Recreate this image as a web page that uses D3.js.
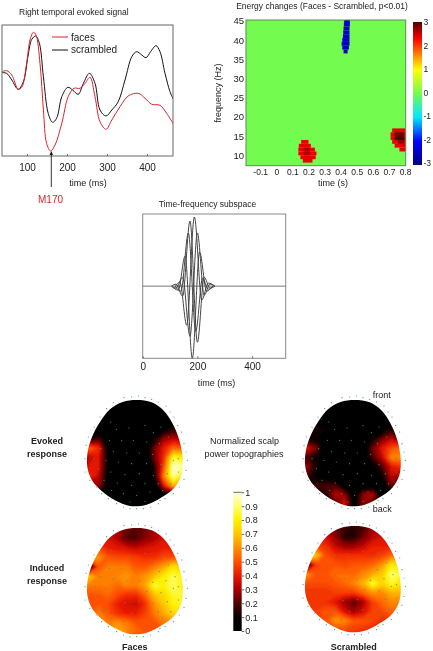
<!DOCTYPE html>
<html>
  <head>
    <meta charset="UTF-8" />
    <title>Faces vs scrambled</title>
    <script src="https://d3js.org/d3.v7.min.js"></script>
    <style>
      body { margin: 0; background: #fff; }
      svg { filter: blur(0.3px); }
      text { font-family: "Liberation Sans", Arial, sans-serif; fill: #222; }
    </style>
  </head>
  <body>
    <div id="chart"></div>
    <script>
      ///////////////////////data///////////////////////////////

      // evoked signal, [ms, amplitude]
      let facesSignal = [[37,84.3],[49,85.3],[62,81],[78,66.7],[87,68.7],[99,92.7],[107.5,116],[116,123.7],[122.5,121],[132.5,92.7],[141,46],[149,12.7],[159,5],[170,11],[187,32.7],[203,59.3],[217.5,67.7],[232.5,67.7],[245,72.7],[257.5,78.7],[270,59.3],[282.5,34.3],[297.5,26.7],[312,36],[332.5,49.3],[353,60],[378,62.7],[395,57.7],[412,51.7],[432.5,50.7],[449,42.7],[466,32]];
      let scrambledSignal = [[37,83.3],[49,82.7],[62,76],[78,66.7],[91,74.3],[103,101],[112,116.7],[122,120],[131,112.7],[141,79.3],[153,42.7],[164,33.7],[174,37.7],[187,59.3],[202,68.7],[214,66],[228,61.7],[241,72.7],[256,82.7],[270,72.7],[282.5,46],[297.5,40],[312,46],[328,54.3],[345,76],[362,99.3],[374,104.3],[387,101],[397.5,98.3],[409,104.3],[422.5,110.3],[432.5,104.3],[445,82.7],[457.5,64.3],[466,56.7]];
      let signalTicks = [100, 200, 300, 400];

      // significant energy changes: [freq, tStart, tEnd, value]
      let energyRuns = [
        [13.5,0.155,0.2,2.4],[12.5,0.14,0.215,2.4],[11.5,0.137,0.24,2.4],[10.5,0.137,0.25,2.4],[9.5,0.15,0.245,2.4],[8.6,0.165,0.225,2.4],
        [11.5,0.17,0.21,2.6],[10.5,0.17,0.21,2.6],
        [16.5,0.72,0.8,2.4],[15.5,0.71,0.804,2.4],[14.5,0.71,0.804,2.4],[13.5,0.72,0.804,2.4],[12.5,0.735,0.804,2.4],[11.5,0.765,0.804,2.4],
        [15.5,0.735,0.795,2.85],[14.5,0.735,0.795,3],[13.5,0.755,0.795,2.7],
        [44.7,0.422,0.457,-2.4],[44,0.42,0.457,-2.4],[43,0.418,0.455,-2.4],[42,0.416,0.455,-2.4],[41,0.414,0.455,-2.4],[40,0.41,0.455,-2.4],[39,0.406,0.455,-2.4],[38,0.41,0.451,-2.4],[37,0.418,0.443,-2.4],
      ];
      let energyTimeTicks = [-0.1, 0, 0.1, 0.2, 0.3, 0.4, 0.5, 0.6, 0.7, 0.8];
      let energyFreqTicks = [10, 15, 20, 25, 30, 35, 40, 45];
      let energyBarTicks = [-3, -2, -1, 0, 1, 2, 3];
      let jetStops = [-3, -2, -1, 0, 1, 2.3, 3];
      let jetColors = ["#00007a", "#0000ff", "#00e8ff", "#74fb50", "#ffff00", "#ff0000", "#500000"];

      // time-frequency subspace curves, [ms, amplitude]
      let subspaceCurves = [
        [[120,0],[136,4],[161,-39],[189,69],[216,-14],[240,3],[264,0]],
        [[106,0],[122,2],[146,-10],[173,65],[200,-56],[225,9],[246,-2],[264,0]],
        [[106,0],[130,-4],[155,30],[181.5,-72],[208,34],[234,-5],[256,0]],
        [[106,0],[122,-2],[146,9],[173,-50],[200,53],[225,-9],[246,2],[264,0]],
        [[118,0],[140,-5],[167,53],[194,-45],[219,8],[240,-3],[258,0]],
      ];
      let subspaceTicks = [0, 200, 400];

      // scalp power, 13 columns x 14 rows over the head box
      let evokedFaces = [
        [0,0,0,0,0,0,0,0,0,0,0,0,0],
        [0,0,0,0,0,0,0,0,0,0,0,0,0],
        [0,0,0,0,0,0,0,0,0,0,0,0,0],
        [0,0,0,0,0,0,0,0,0,0,0,0,0],
        [0,0,0,0,0,0,0,0,0,.05,.15,.1,0],
        [0,.1,.2,0,0,0,0,0,.1,.3,.35,.3,.2],
        [.3,.55,.45,.05,0,0,0,0,.25,.42,.55,.5,.4],
        [.2,.35,.4,.05,0,0,0,0,.25,.45,.85,.8,.5],
        [.2,.4,.4,.05,0,0,0,0,.15,.5,1,.95,.6],
        [.3,.45,.35,.05,0,0,0,0,.1,.6,.95,.8,.4],
        [.1,.25,.3,.05,0,0,0,0,0,.42,.7,.5,.1],
        [0,0,.05,0,0,0,0,0,0,.05,.1,0,0],
        [0,0,0,0,0,0,0,0,0,0,0,0,0],
        [0,0,0,0,0,0,0,0,0,0,0,0,0],
      ];
      let evokedScrambled = [
        [0,0,0,0,0,0,0,0,0,0,0,0,0],
        [0,0,0,0,0,0,0,0,0,0,0,0,0],
        [0,0,0,0,0,0,0,0,0,0,0,0,0],
        [0,0,0,0,0,0,0,0,0,0,0,0,0],
        [0,0,.15,.08,0,0,0,0,0,0,.15,.1,0],
        [0,.1,.08,0,0,0,0,0,.1,.25,.35,.2,.1],
        [.2,.4,.25,0,0,0,0,0,.25,.4,.5,.55,.4],
        [.1,.2,.1,0,0,0,0,0,.2,.35,.6,.6,.4],
        [.2,.3,.1,0,0,0,0,0,.05,.2,.4,.45,.3],
        [.1,.2,.05,0,0,0,0,0,0,.1,.35,.3,.2],
        [.05,.15,.2,.2,.2,0,0,0,0,0,.25,.1,0],
        [0,0,.05,.15,.35,.3,0,.3,.35,0,0,0,0],
        [0,0,0,.05,.2,.4,.05,.3,.2,0,0,0,0],
        [0,0,0,0,0,0,0,0,0,0,0,0,0],
      ];
      let inducedFaces = [
        [.3,.3,.3,.3,.3,.3,.3,.3,.3,.3,.3,.3,.3],
        [.3,.3,.3,.35,.3,.25,.22,.25,.3,.35,.35,.35,.35],
        [.4,.4,.4,.38,.33,.22,.22,.28,.33,.38,.4,.4,.4],
        [.45,.5,.5,.42,.4,.38,.35,.38,.4,.42,.42,.42,.42],
        [.6,.7,.62,.52,.5,.5,.48,.45,.45,.5,.5,.5,.45],
        [.1,.05,.52,.58,.58,.58,.52,.52,.58,.65,.78,.7,.55],
        [.72,.72,.58,.58,.6,.62,.58,.62,.7,.8,.88,.82,.7],
        [.58,.58,.58,.58,.55,.6,.58,.65,.88,.82,.9,.82,.7],
        [.52,.52,.52,.55,.5,.45,.45,.55,.7,.76,.86,.85,.7],
        [.55,.52,.52,.5,.42,.38,.36,.45,.62,.72,.82,.86,.7],
        [.52,.52,.58,.52,.45,.42,.42,.48,.58,.66,.75,.76,.6],
        [.55,.55,.58,.58,.62,.58,.52,.52,.52,.58,.58,.58,.5],
        [.55,.55,.55,.58,.68,.6,.55,.52,.5,.5,.5,.5,.45],
        [.45,.45,.45,.45,.45,.45,.45,.45,.45,.45,.45,.45,.45],
      ];
      let inducedScrambled = [
        [.3,.3,.3,.3,.3,.3,.3,.3,.3,.3,.3,.3,.3],
        [.3,.3,.3,.3,.25,.18,.15,.2,.3,.35,.35,.35,.35],
        [.4,.4,.38,.38,.28,.15,.15,.25,.33,.38,.4,.4,.4],
        [.5,.5,.5,.45,.35,.3,.3,.35,.42,.42,.42,.42,.42],
        [.7,.85,.7,.5,.45,.45,.45,.45,.45,.48,.55,.55,.5],
        [.1,.1,.48,.52,.52,.5,.52,.52,.55,.62,.8,.75,.6],
        [.6,.62,.52,.52,.55,.55,.55,.6,.65,.72,.92,.86,.7],
        [.5,.5,.5,.5,.52,.55,.6,.68,.88,.74,.86,.78,.65],
        [.45,.45,.45,.45,.48,.48,.48,.55,.62,.6,.68,.68,.6],
        [.45,.45,.45,.45,.4,.3,.22,.32,.48,.55,.6,.6,.55],
        [.45,.45,.48,.52,.52,.38,.3,.38,.48,.5,.55,.5,.45],
        [.45,.45,.45,.52,.62,.6,.52,.52,.5,.45,.45,.45,.45],
        [.42,.42,.42,.45,.5,.5,.48,.45,.42,.4,.4,.4,.4],
        [.4,.4,.4,.4,.4,.4,.4,.4,.4,.4,.4,.4,.4],
      ];
      let headOutline = [[170,24],[215,31],[250,55],[278,95],[298,145],[308,200],[304,250],[283,287],[245,316],[200,338],[150,342],[105,325],[65,297],[36,265],[22,225],[23,180],[36,135],[60,90],[90,52],[128,30]];
      let sensors = [[155,15],[175,12],[195,17],[215,22],[235,30],[258,42],[270,60],[282,75],[293,100],[305,120],[312,155],[318,180],[322,205],[318,235],[312,262],[298,285],[280,305],[255,320],[235,335],[212,345],[190,350],[170,350],[150,350],[130,345],[110,335],[85,320],[65,305],[50,285],[30,265],[15,240],[15,200],[18,160],[25,135],[42,105],[60,75],[80,50],[100,32],[132,17],
        [92,90],[147,108],[195,100],[243,105],[110,112],[220,122],[265,135],[88,145],[125,145],[160,145],[200,150],[238,155],[285,170],[62,170],[100,178],[140,183],[178,183],[218,187],[258,182],[295,200],[42,200],[78,205],[115,210],[155,215],[200,215],[243,218],[280,205],[55,230],[92,240],[135,248],[178,245],[220,250],[262,245],[295,240],[72,265],[112,273],[155,280],[195,275],[235,275],[272,275],[95,295],[130,305],[170,310],[210,300],[248,295],[150,330],[195,328],[240,325]];
      let hotStops = [0, 0.1, 0.2, 0.3, 0.4, 0.5, 0.6, 0.7, 0.8, 0.9, 1];
      let hotColors = ["#000000", "#0a0000", "#500000", "#a80000", "#e81800", "#ff5000", "#ff9000", "#ffc800", "#fff000", "#ffff70", "#ffffe8"];
      let hotTicks = [0, 0.1, 0.2, 0.3, 0.4, 0.5, 0.6, 0.7, 0.8, 0.9, 1];

      ///////////////////////helpers///////////////////////////////

      let svg = d3.select("#chart").append("svg").attr("width", 433).attr("height", 651);
      let defs = svg.append("defs");
      defs.append("filter").attr("id", "soft").append("feGaussianBlur").attr("stdDeviation", 0.9);

      function label(txt, x, y, opts) {
        opts = opts || {};
        return svg.append("text")
          .attr("x", x).attr("y", y)
          .attr("text-anchor", opts.anchor || "middle")
          .attr("font-size", opts.size || 9.5)
          .attr("font-weight", opts.bold ? "bold" : null)
          .style("fill", opts.fill || null)
          .attr("transform", opts.rotate ? `rotate(${opts.rotate} ${x} ${y})` : null)
          .text(txt);
      }

      function box(x0, y0, x1, y1, stroke) {
        svg.append("rect").attr("x", x0).attr("y", y0).attr("width", x1 - x0).attr("height", y1 - y0)
          .attr("fill", "none").attr("stroke", stroke || "#666").attr("stroke-width", 1);
      }

      function axisStyle(g, size) {
        g.select(".domain").remove();
        g.selectAll("line").attr("stroke", "#666");
        g.selectAll("text").attr("font-family", null).attr("font-size", size).style("fill", "#222");
      }

      ///////////////////////evoked signal///////////////////////////////

      let sigX = d3.scaleLinear().domain([37.5, 465]).range([2, 173]);
      let sigY = d3.scaleLinear().domain([0, 131]).range([156, 25]);
      let sigLine = d3.line().x((d) => sigX(d[0])).y((d) => sigY(d[1])).curve(d3.curveCatmullRom);

      label("Right temporal evoked signal", 19, 15, { anchor: "start", size: 8.5 });
      svg.append("clipPath").attr("id", "sigClip").append("rect").attr("x", 2).attr("y", 25).attr("width", 171).attr("height", 131);
      let sigG = svg.append("g").attr("clip-path", "url(#sigClip)");
      sigG.append("path").attr("d", sigLine(scrambledSignal)).attr("fill", "none").attr("stroke", "#111").attr("stroke-width", 1);
      sigG.append("path").attr("d", sigLine(facesSignal)).attr("fill", "none").attr("stroke", "#e0202a").attr("stroke-width", 1);
      box(2, 25, 173, 156);
      axisStyle(
        svg.append("g").attr("transform", "translate(0,156)")
          .call(d3.axisBottom(sigX).tickValues(signalTicks).tickSize(-2).tickPadding(8)),
        10
      );
      label("time (ms)", 88, 186, { size: 9 });
      svg.append("line").attr("x1", 52).attr("x2", 68).attr("y1", 37).attr("y2", 37).attr("stroke", "#e0202a");
      svg.append("line").attr("x1", 52).attr("x2", 68).attr("y1", 50).attr("y2", 50).attr("stroke", "#111");
      label("faces", 71, 41, { anchor: "start", size: 10 });
      label("scrambled", 71, 53, { anchor: "start", size: 10 });
      svg.append("line").attr("x1", 51.3).attr("x2", 51.3).attr("y1", 187).attr("y2", 154).attr("stroke", "#333");
      svg.append("path").attr("d", d3.line()([[49.6, 155], [53, 155], [51.3, 151]])).attr("fill", "#111");
      label("M170", 50.5, 203, { size: 10, fill: "#d8262c" });

      ///////////////////////energy map///////////////////////////////

      let enX = d3.scaleLinear().domain([-0.188, 0.804]).range([246, 405.7]);
      let enY = d3.scaleLinear().domain([7.3, 45.2]).range([165.7, 20]);
      let jet = d3.scaleLinear().domain(jetStops).range(jetColors);

      label("Energy changes (Faces - Scrambled, p<0.01)", 322, 9, { size: 8.5 });
      svg.append("rect").attr("x", 246).attr("y", 20).attr("width", 159.7).attr("height", 145.7).attr("fill", jet(0));
      svg.selectAll(".run").data(energyRuns).enter().append("rect")
        .attr("class", "run")
        .attr("x", (d) => enX(d[1]))
        .attr("width", (d) => enX(d[2]) - enX(d[1]))
        .attr("y", (d) => enY(d[0] + 0.5))
        .attr("height", (d) => enY(d[0] - 0.5) - enY(d[0] + 0.5))
        .attr("fill", (d) => jet(d[3]));
      box(246, 20, 405.7, 165.7, "#5a8a50");
      axisStyle(
        svg.append("g").attr("transform", "translate(0,165.7)")
          .call(d3.axisBottom(enX).tickValues(energyTimeTicks).tickFormat(String).tickSize(0).tickPadding(3)),
        8.5
      );
      axisStyle(
        svg.append("g").attr("transform", "translate(246,0)")
          .call(d3.axisLeft(enY).tickValues(energyFreqTicks).tickSize(0).tickPadding(2)),
        9.5
      );
      label("time (s)", 333, 186, { size: 9 });
      label("frequency (Hz)", 221, 93, { size: 9, rotate: -90 });

      let jetBar = defs.append("linearGradient").attr("id", "jetBar").attr("x1", 0).attr("x2", 0).attr("y1", 1).attr("y2", 0);
      jetStops.forEach((s, i) => jetBar.append("stop").attr("offset", (s + 3) / 6).attr("stop-color", jetColors[i]));
      let barY = d3.scaleLinear().domain([-3, 3]).range([163, 22]);
      svg.append("rect").attr("x", 413).attr("y", 22).attr("width", 9).attr("height", 143).attr("fill", "url(#jetBar)");
      axisStyle(
        svg.append("g").attr("transform", "translate(422,0)")
          .call(d3.axisRight(barY).tickValues(energyBarTicks).tickFormat(String).tickSize(0).tickPadding(1.5)),
        8.5
      );

      ///////////////////////subspace///////////////////////////////

      let subX = d3.scaleLinear().domain([0, 523]).range([142.7, 285.7]);
      let subY = d3.scaleLinear().domain([-72, 72]).range([358.3, 214]);
      let subLine = d3.line().x((d) => subX(d[0])).y((d) => subY(d[1])).curve(d3.curveMonotoneX);

      label("Time-frequency subspace", 207.5, 207, { size: 8.5 });
      box(142.7, 214, 285.7, 358.3, "#888");
      svg.append("line").attr("x1", subX(0)).attr("x2", subX(523)).attr("y1", subY(0)).attr("y2", subY(0)).attr("stroke", "#777");
      svg.selectAll(".sub").data(subspaceCurves).enter().append("path")
        .attr("class", "sub")
        .attr("d", subLine)
        .attr("fill", "none")
        .attr("stroke", "#444")
        .attr("stroke-width", 1);
      axisStyle(
        svg.append("g").attr("transform", "translate(0,358.3)")
          .call(d3.axisBottom(subX).tickValues(subspaceTicks).tickSize(-2).tickPadding(5)),
        10
      );
      label("time (ms)", 216.5, 386, { size: 9 });

      ///////////////////////topographies///////////////////////////////

      let hot = d3.scaleLinear().domain(hotStops).range(hotColors);
      let headX = d3.scaleLinear().domain([0, 336]).range([0, 112]);
      let headY = d3.scaleLinear().domain([0, 366]).range([0, 122]);
      let outline = d3.line().x((d) => headX(d[0])).y((d) => headY(d[1])).curve(d3.curveCatmullRomClosed);
      defs.append("clipPath").attr("id", "headClip").append("path").attr("d", outline(headOutline));

      let cols = 13, rows = 14;
      let contours = d3.contours().size([cols, rows]).thresholds(d3.range(0, 1.01, 0.025));
      // grid points sit 28 head units apart
      let gridPath = d3.geoPath(d3.geoTransform({
        point: function (x, y) {
          this.stream.point(headX((x - 0.5) * 28), headY((y - 0.5) * 28));
        },
      }));

      function head(matrix, x0, y0) {
        let g = svg.append("g").attr("transform", `translate(${x0},${y0})`);
        let clipped = g.append("g").attr("clip-path", "url(#headClip)");
        let inner = clipped.append("g").attr("filter", "url(#soft)");
        inner.selectAll("path").data(contours(matrix.flat())).enter().append("path")
          .attr("d", gridPath)
          .attr("fill", (d) => hot(d.value));
        g.selectAll("circle").data(sensors).enter().append("circle")
          .attr("cx", (d) => headX(d[0]))
          .attr("cy", (d) => headY(d[1]))
          .attr("r", 0.6)
          .attr("fill", "#3f9384");
      }

      head(evokedFaces, 80, 392);
      head(inducedFaces, 80, 520);
      head(evokedScrambled, 298, 392);
      head(inducedScrambled, 298, 518);

      label("Evoked", 47, 444, { bold: true, size: 9 });
      label("response", 47, 457, { bold: true, size: 9 });
      label("Induced", 47, 571, { bold: true, size: 9 });
      label("response", 47, 584, { bold: true, size: 9 });
      label("Faces", 134.7, 650, { bold: true, size: 9 });
      label("Scrambled", 353.7, 650, { bold: true, size: 9 });
      label("Normalized scalp", 244.5, 444, { size: 9 });
      label("power topographies", 244, 457, { size: 9 });
      label("front", 372.7, 398, { anchor: "start", size: 9 });
      label("back", 372.7, 512, { anchor: "start", size: 9 });

      let hotBar = defs.append("linearGradient").attr("id", "hotBar").attr("x1", 0).attr("x2", 0).attr("y1", 1).attr("y2", 0);
      hotStops.forEach((s, i) => hotBar.append("stop").attr("offset", s).attr("stop-color", hotColors[i]));
      let hotY = d3.scaleLinear().domain([0, 1]).range([631, 492.3]);
      svg.append("rect").attr("x", 233.3).attr("y", 492).attr("width", 8.4).attr("height", 139).attr("fill", "url(#hotBar)");
      axisStyle(
        svg.append("g").attr("transform", "translate(241.7,0)")
          .call(d3.axisRight(hotY).tickValues(hotTicks).tickFormat(String).tickSize(2.5).tickPadding(1)),
        9
      );
      svg.append("line").attr("x1", 233.3).attr("x2", 241.7).attr("y1", 492.3).attr("y2", 492.3).attr("stroke", "#666");
    </script>
  </body>
</html>
